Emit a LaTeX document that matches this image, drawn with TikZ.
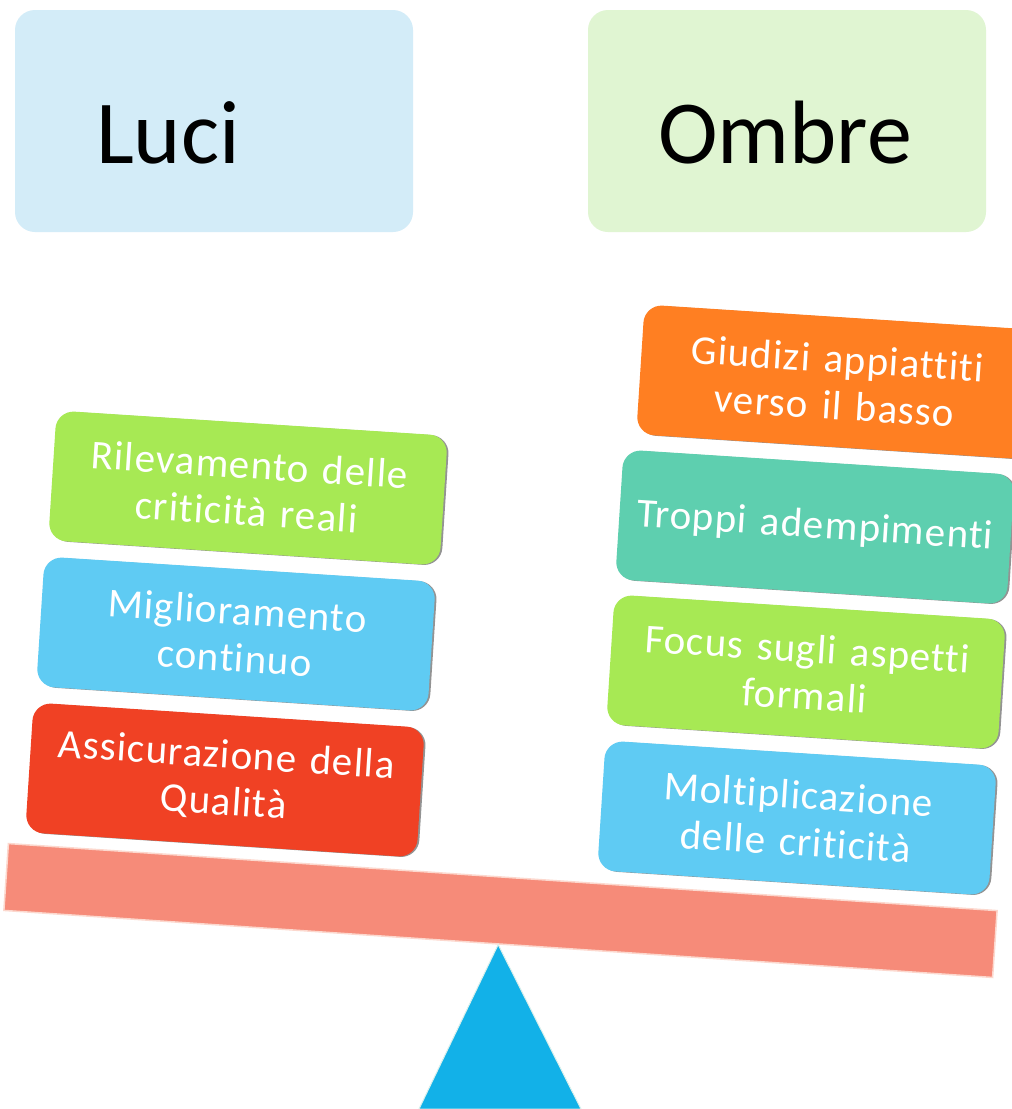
\documentclass[tikz,border=0pt]{standalone}
\usepackage{fontspec}
\setmainfont{Carlito}[Ligatures=NoCommon]
\newfontfamily\boxfont{Carlito}[LetterSpace=2.5, Ligatures=NoCommon]
\usetikzlibrary{shadows}
\definecolor{luciC}{HTML}{D3ECF8}
\definecolor{ombreC}{HTML}{E0F5D2}
\definecolor{greenC}{HTML}{A7E954}
\definecolor{blueC}{HTML}{5FCBF3}
\definecolor{redC}{HTML}{F04124}
\definecolor{orangeC}{HTML}{FF7F22}
\definecolor{tealC}{HTML}{5ECFAF}
\definecolor{beamC}{HTML}{F68B79}
\definecolor{beamEdge}{HTML}{FCD8CE}
\definecolor{triC}{HTML}{12B1E8}
\definecolor{triEdge}{HTML}{D8F0EC}
\tikzset{
  header/.style={rounded corners=20pt, minimum width=398pt, minimum height=222pt, inner sep=0pt},
  headtext/.style={font=\fontsize{90}{100}\selectfont, text=black, inner sep=0pt},
  stackbox/.style={rounded corners=18pt, minimum width=392pt, minimum height=130pt,
    text width=380pt, align=center, text=white, inner sep=0pt, rotate=-3.7,
    font=\boxfont\fontsize{41}{47}\selectfont,
    drop shadow={shadow xshift=1.8pt, shadow yshift=-0.5pt, opacity=0.6, fill=black!70}},
}
\begin{document}
\begin{tikzpicture}[x=1pt, y=-1pt]
\useasboundingbox (0,0) rectangle (1012,1109);
\fill[white] (0,0) rectangle (1012,1109);
% headers
\node[header, fill=luciC] (luci) at (214,121) {};
\node[headtext] (lucit) at (168,133) {Luci};
\node[header, fill=ombreC] (ombre) at (787,121) {};
\node[headtext] (ombret) at (785,133) {Ombre};
% beam and fulcrum
\node[draw=beamEdge, line width=1.5pt, fill=beamC, minimum width=991pt, minimum height=67pt,
      inner sep=0pt, rotate=-3.88] (beam) at (500.5,910.5) {};
\fill[triC, draw=triEdge, line width=1pt] (beam.south) -- (581,1109) -- (419,1109) -- cycle;
% left stack
\node[stackbox, fill=greenC] (l1) at (248,488) {Rilevamento delle\\criticità reali};
\node[stackbox, fill=blueC] (l2) at (236,634) {Miglioramento\\continuo};
\node[stackbox, fill=redC] (l3) at (225,780) {Assicurazione della\\Qualità};
% right stack
\node[stackbox, fill=orangeC] (r1) at (836,382) {Giudizi appiattiti\\verso il basso};
\node[stackbox, fill=tealC] (r2) at (815,527) {Troppi adempimenti};
\node[stackbox, fill=greenC] (r3) at (806,672) {Focus sugli aspetti\\formali};
\node[stackbox, fill=blueC] (r4) at (797,818) {Moltiplicazione\\delle criticità};
\end{tikzpicture}
\end{document}
